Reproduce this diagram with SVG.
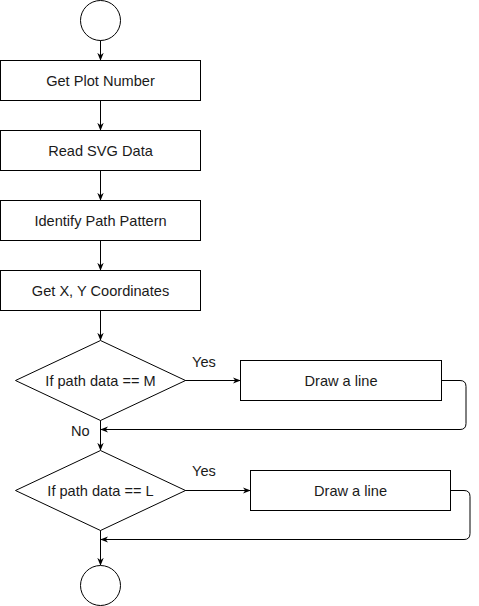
<svg xmlns="http://www.w3.org/2000/svg" width="479" height="606" viewBox="0 0 479 606">
<style>
.s{fill:#fff;stroke:#000;stroke-width:1}
.t{font-family:"Liberation Sans",Arial,sans-serif;font-size:14.6px;fill:#1a1a1a;text-anchor:middle;dominant-baseline:central}
.l{font-family:"Liberation Sans",Arial,sans-serif;font-size:14.6px;fill:#1a1a1a;dominant-baseline:central}
.c{fill:none;stroke:#000;stroke-width:1}
</style>
<defs>
<marker id="a" viewBox="0 0 10 10" refX="9" refY="5" markerWidth="8" markerHeight="8" markerUnits="userSpaceOnUse" orient="auto">
<path d="M0,1 L10,5 L0,9 L3,5 Z" fill="#000"/>
</marker>
</defs>
<rect width="479" height="606" fill="#fff"/>
<g id="connectors">
<path class="c" d="M100.5,40 V60" marker-end="url(#a)"/>
<path class="c" d="M100.5,100.5 V130" marker-end="url(#a)"/>
<path class="c" d="M100.5,170.5 V200" marker-end="url(#a)"/>
<path class="c" d="M100.5,240.5 V270" marker-end="url(#a)"/>
<path class="c" d="M100.5,310.5 V340" marker-end="url(#a)"/>
<path class="c" d="M185,380.5 H240" marker-end="url(#a)"/>
<path class="c" d="M441.5,380.5 H460 Q466,380.5 466,386.5 V423.5 Q466,429.5 460,429.5 H101" marker-end="url(#a)"/>
<path class="c" d="M100.5,420 V450" marker-end="url(#a)"/>
<path class="c" d="M185,490.5 H250" marker-end="url(#a)"/>
<path class="c" d="M450.5,490.5 H464 Q470,490.5 470,496.5 V533.5 Q470,539.5 464,539.5 H101" marker-end="url(#a)"/>
<path class="c" d="M100.5,530 V565" marker-end="url(#a)"/>
<text class="l" x="192" y="362">Yes</text>
<text class="l" x="71" y="431">No</text>
<text class="l" x="192" y="471">Yes</text>
</g>
<g id="start"><circle class="s" cx="100.5" cy="20.5" r="20"/></g>
<g id="n1"><rect class="s" x="0.5" y="60.5" width="200" height="40"/><text class="t" x="100.5" y="80.5">Get Plot Number</text></g>
<g id="n2"><rect class="s" x="0.5" y="130.5" width="200" height="40"/><text class="t" x="100.5" y="150.5">Read SVG Data</text></g>
<g id="n3"><rect class="s" x="0.5" y="200.5" width="200" height="40"/><text class="t" x="100.5" y="220.5">Identify Path Pattern</text></g>
<g id="n4"><rect class="s" x="0.5" y="270.5" width="200" height="40"/><text class="t" x="100.5" y="290.5">Get X, Y Coordinates</text></g>
<g id="d1"><path class="s" d="M100.5,340.5 L185.5,380.5 L100.5,420.5 L15.5,380.5 Z"/><text class="t" x="100.5" y="380.5">If path data == M</text></g>
<g id="r1"><rect class="s" x="240.5" y="360.5" width="201" height="40"/><text class="t" x="341" y="380.5">Draw a line</text></g>
<g id="d2"><path class="s" d="M100.5,450.5 L185.5,490.5 L100.5,530.5 L15.5,490.5 Z"/><text class="t" x="100.5" y="490.5">If path data == L</text></g>
<g id="r2"><rect class="s" x="250.5" y="470.5" width="200" height="40"/><text class="t" x="350.5" y="490.5">Draw a line</text></g>
<g id="end"><circle class="s" cx="100.5" cy="585.5" r="20"/></g>
</svg>
